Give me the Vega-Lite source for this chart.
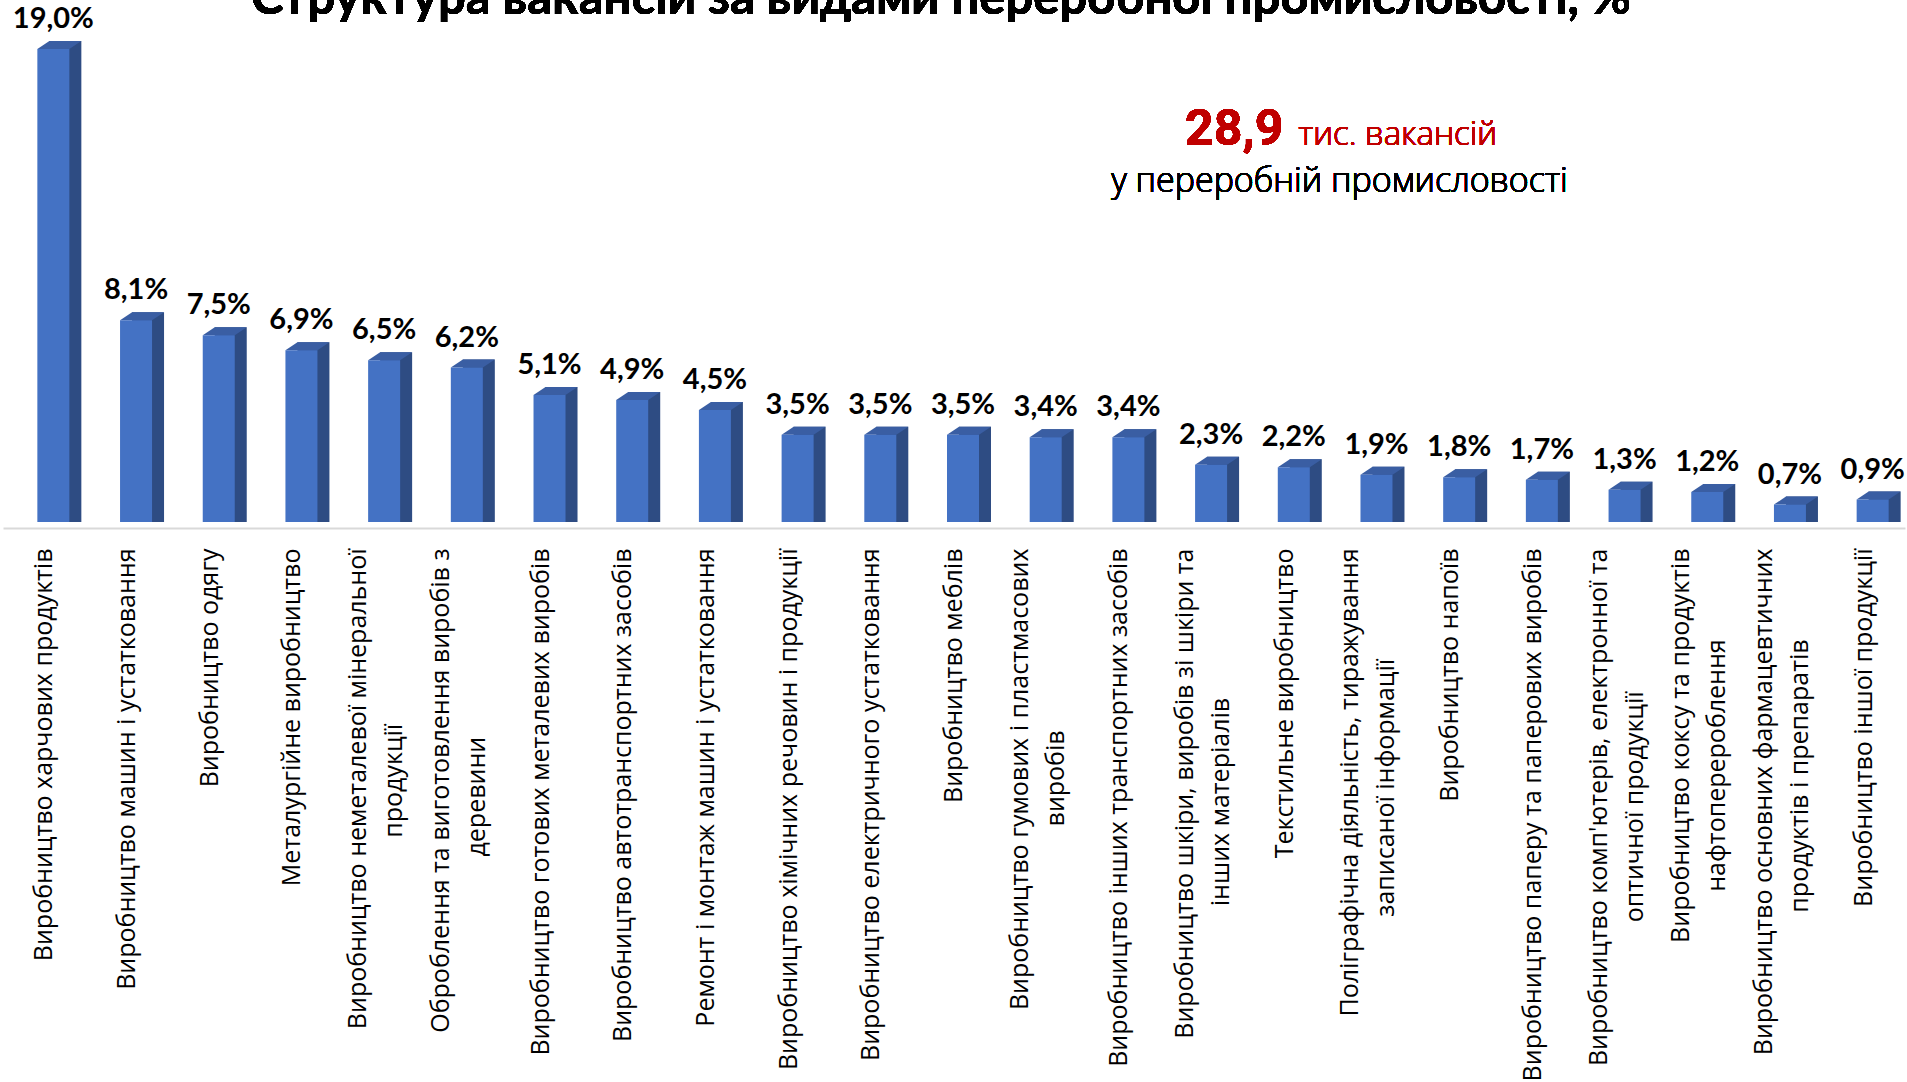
{
  "$schema": "https://vega.github.io/schema/vega-lite/v6.json",
  "width": 1902,
  "height": 522,
  "autosize": {"type": "none"},
  "padding": {"left": 3, "top": 0, "right": 2, "bottom": 560},
  "background": "white",
  "config": {
    "view": {"stroke": null},
    "locale": {"number": {"decimal": ",", "thousands": " ", "grouping": [3], "currency": ["", " грн"]}}
  },
  "data": {
    "values": [
      {"cat": "Виробництво харчових продуктів", "share": 0.190},
      {"cat": "Виробництво машин і устатковання", "share": 0.081},
      {"cat": "Виробництво одягу", "share": 0.075},
      {"cat": "Металургійне виробництво", "share": 0.069},
      {"cat": "Виробництво неметалевої мінеральної|продукції", "share": 0.065},
      {"cat": "Оброблення та виготовлення виробів з|деревини", "share": 0.062},
      {"cat": "Виробництво готових металевих виробів", "share": 0.051},
      {"cat": "Виробництво автотранспортних засобів", "share": 0.049},
      {"cat": "Ремонт і монтаж машин і устатковання", "share": 0.045},
      {"cat": "Виробництво хімічних речовин і продукції", "share": 0.035},
      {"cat": "Виробництво електричного устатковання", "share": 0.035},
      {"cat": "Виробництво меблів", "share": 0.035},
      {"cat": "Виробництво гумових і пластмасових|виробів", "share": 0.034},
      {"cat": "Виробництво інших транспортних засобів", "share": 0.034},
      {"cat": "Виробництво шкіри, виробів зі шкіри та|інших матеріалів", "share": 0.023},
      {"cat": "Текстильне виробництво", "share": 0.022},
      {"cat": "Поліграфічна діяльність, тиражування|записаної інформації", "share": 0.019},
      {"cat": "Виробництво напоїв", "share": 0.018},
      {"cat": "Виробництво паперу та паперових виробів", "share": 0.017},
      {"cat": "Виробництво комп'ютерів, електронної та|оптичної продукції", "share": 0.013},
      {"cat": "Виробництво коксу та продуктів|нафтоперероблення", "share": 0.012},
      {"cat": "Виробництво основних фармацевтичних|продуктів і препаратів", "share": 0.007},
      {"cat": "Виробництво іншої продукції", "share": 0.009}
    ]
  },
  "encoding": {
    "x": {
      "field": "cat",
      "type": "nominal",
      "sort": null,
      "scale": {"paddingInner": 0, "paddingOuter": 0},
      "axis": {
        "title": null,
        "labelAngle": 270,
        "labelAlign": "right",
        "labelBaseline": "middle",
        "labelFont": "Open Sans",
        "labelFontSize": 25,
        "labelColor": "#000000",
        "labelLineHeight": 36,
        "labelPadding": 20,
        "labelLimit": 0,
        "labelOverlap": false,
        "labelOffset": {"condition": {"test": "indexof(datum.label, '|') >= 0", "value": -17}, "value": 0},
        "ticks": false,
        "tickSize": 0,
        "domain": true,
        "domainColor": "#D9D9D9",
        "domainWidth": 2,
        "offset": 6,
        "labelExpr": "length(split(datum.label, '|')) > 1 ? [split(datum.label, '|')[0], pad(split(datum.label, '|')[1], length(split(datum.label, '|')[1]) + round((length(split(datum.label, '|')[0]) - length(split(datum.label, '|')[1])) * 1.05), '\u00a0') + '\u200b'] : datum.label"
      }
    }
  },
  "layer": [
    {
      "mark": {"type": "bar", "width": 32, "xOffset": 21, "yOffset": -8, "color": "#2E4C83"},
      "encoding": {
        "y": {"field": "share", "type": "quantitative", "scale": {"domain": [0, 0.20964], "nice": false, "zero": true}, "axis": null},
        "y2": {"datum": 0}
      }
    },
    {
      "mark": {"type": "point", "shape": "M-1,0L0.4545,0L1,-0.3636L-0.4545,-0.3636Z", "size": 1936, "filled": true, "opacity": 1, "strokeWidth": 0, "color": "#3A5EA3", "xOffset": 15},
      "encoding": {
        "y": {"field": "share", "type": "quantitative"}
      }
    },
    {
      "mark": {"type": "bar", "width": 32, "xOffset": 9, "color": "#4472C4"},
      "encoding": {
        "y": {"field": "share", "type": "quantitative"},
        "y2": {"datum": 0}
      }
    },
    {
      "mark": {"type": "text", "xOffset": 9, "dy": -21, "baseline": "alphabetic", "align": "center", "font": "Lato", "fontSize": 29, "fontWeight": "bold", "color": "#000000"},
      "encoding": {
        "y": {"field": "share", "type": "quantitative"},
        "text": {"field": "share", "type": "quantitative", "format": ".1%"}
      }
    },
    {
      "mark": {"type": "text", "text": "Структура вакансій за видами переробної промисловості, %", "align": "center", "baseline": "alphabetic", "xOffset": -13, "font": "Lato", "fontSize": 49, "fontWeight": "bold", "color": "#000000"},
      "encoding": {
        "x": {"datum": "Виробництво меблів"},
        "y": {"datum": 0.2040}
      }
    },
    {
      "mark": {"type": "text", "text": "28,9", "align": "right", "baseline": "alphabetic", "xOffset": -84, "font": "Roboto", "fontSize": 50, "fontWeight": "bold", "color": "#C00000"},
      "encoding": {
        "x": {"datum": "Поліграфічна діяльність, тиражування|записаної інформації"},
        "y": {"datum": 0.1514}
      }
    },
    {
      "mark": {"type": "text", "text": "тис. вакансій", "align": "left", "baseline": "alphabetic", "xOffset": -69, "font": "Open Sans", "fontSize": 33, "fontWeight": 300, "stroke": null, "color": "#C00000"},
      "encoding": {
        "x": {"datum": "Поліграфічна діяльність, тиражування|записаної інформації"},
        "y": {"datum": 0.1514}
      }
    },
    {
      "mark": {"type": "text", "text": "у переробній промисловості", "align": "center", "baseline": "alphabetic", "xOffset": -28, "font": "Open Sans", "fontSize": 34, "fontWeight": 300, "stroke": null, "color": "#000000"},
      "encoding": {
        "x": {"datum": "Поліграфічна діяльність, тиражування|записаної інформації"},
        "y": {"datum": 0.1325}
      }
    }
  ]
}
